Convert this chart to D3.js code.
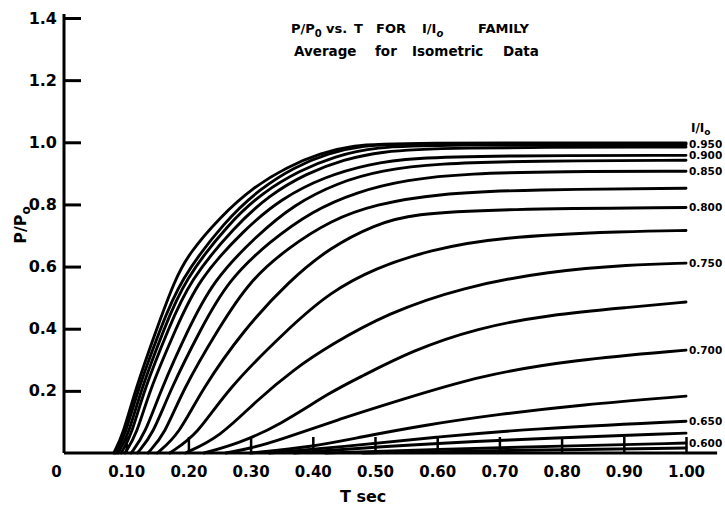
<!DOCTYPE html>
<html>
<head>
<meta charset="utf-8">
<script src="https://cdn.jsdelivr.net/npm/d3@7"></script>
<style>
  body { margin: 0; background: #fff; }
  text { font-family: "DejaVu Sans", sans-serif; font-weight: bold; fill: #000; }
</style>
</head>
<body>
<div id="chart"></div>
<script>
// I/I0 of each curve, top to bottom
const ratios = [1.000, 0.975, 0.950, 0.925, 0.900, 0.875, 0.850, 0.825, 0.800,
                0.775, 0.750, 0.725, 0.700, 0.675, 0.650, 0.625, 0.600, 0.575];

// [T sec, P/P0]
const c1000 = [[0.080,0],[0.095,0.06],[0.114,0.2],[0.149,0.4],[0.178,0.556],[0.20,0.64],[0.251,0.76],[0.304,0.855],[0.358,0.92],[0.412,0.965],[0.465,0.99],[0.53,0.998],[1.0,0.998]];
const c0975 = [[0.083,0],[0.099,0.06],[0.118,0.2],[0.155,0.4],[0.186,0.556],[0.26,0.75],[0.315,0.85],[0.37,0.92],[0.425,0.965],[0.48,0.99],[0.55,0.996],[1.0,0.996]];
const c0950 = [[0.087,0],[0.104,0.06],[0.123,0.2],[0.161,0.4],[0.193,0.556],[0.265,0.74],[0.32,0.84],[0.38,0.91],[0.435,0.955],[0.5,0.985],[0.6,0.992],[1.0,0.992]];
const c0925 = [[0.092,0],[0.109,0.06],[0.128,0.2],[0.168,0.4],[0.202,0.556],[0.275,0.73],[0.33,0.83],[0.39,0.9],[0.45,0.945],[0.51,0.97],[0.6,0.983],[1.0,0.985]];
const c0900 = [[0.098,0],[0.117,0.06],[0.137,0.2],[0.180,0.4],[0.215,0.556],[0.29,0.72],[0.35,0.82],[0.42,0.89],[0.49,0.93],[0.56,0.95],[0.7,0.957],[1.0,0.958]];
const c0875 = [[0.108,0],[0.13,0.06],[0.155,0.2],[0.200,0.4],[0.240,0.556],[0.31,0.70],[0.37,0.80],[0.44,0.87],[0.51,0.91],[0.6,0.932],[0.75,0.94],[1.0,0.942]];
const c0850 = [[0.118,0],[0.143,0.06],[0.17,0.2],[0.22,0.4],[0.264,0.556],[0.33,0.68],[0.40,0.78],[0.47,0.84],[0.55,0.88],[0.65,0.90],[0.8,0.906],[1.0,0.907]];
const c0825 = [[0.135,0],[0.162,0.06],[0.19,0.2],[0.248,0.4],[0.299,0.556],[0.36,0.66],[0.43,0.75],[0.50,0.80],[0.6,0.835],[0.75,0.848],[1.0,0.852]];
const c0800 = [[0.150,0],[0.185,0.06],[0.22,0.2],[0.29,0.4],[0.363,0.556],[0.428,0.662],[0.50,0.735],[0.56,0.77],[0.7,0.785],[1.0,0.790]];
const c0775 = [[0.170,0],[0.215,0.06],[0.26,0.2],[0.36,0.4],[0.428,0.518],[0.50,0.595],[0.588,0.653],[0.696,0.695],[0.91,0.714],[1.0,0.716]];
const c0750 = [[0.195,0],[0.25,0.05],[0.31,0.17],[0.37,0.27],[0.428,0.347],[0.52,0.45],[0.641,0.534],[0.78,0.585],[0.91,0.606],[1.0,0.611]];
const c0725 = [[0.225,0],[0.28,0.03],[0.347,0.09],[0.428,0.196],[0.476,0.244],[0.56,0.33],[0.664,0.402],[0.78,0.445],[0.91,0.469],[1.0,0.486]];
const c0700 = [[0.26,0],[0.30,0.015],[0.347,0.042],[0.444,0.11],[0.54,0.17],[0.67,0.25],[0.82,0.30],[1.0,0.331]];
const c0675 = [[0.30,0],[0.40,0.02],[0.476,0.051],[0.58,0.09],[0.70,0.125],[0.83,0.155],[1.0,0.183]];
const c0650 = [[0.33,0],[0.45,0.02],[0.6,0.052],[0.75,0.078],[1.0,0.102]];
const c0625 = [[0.37,0],[0.5,0.02],[0.7,0.042],[1.0,0.064]];
const c0600 = [[0.42,0],[0.6,0.012],[0.8,0.022],[1.0,0.032]];
const c0575 = [[0.48,0],[0.7,0.008],[1.0,0.016]];

const curves = [c1000, c0975, c0950, c0925, c0900, c0875, c0850, c0825, c0800,
                c0775, c0750, c0725, c0700, c0675, c0650, c0625, c0600, c0575];

// curves that carry a label at the right end
const labelled = [0.950, 0.900, 0.850, 0.800, 0.750, 0.700, 0.650, 0.600];

const xTicks = [0, 0.1, 0.2, 0.3, 0.4, 0.5, 0.6, 0.7, 0.8, 0.9, 1.0];
const yTicks = [0.2, 0.4, 0.6, 0.8, 1.0, 1.2, 1.4];

const width = 725;
const height = 508;

const x = d3.scaleLinear().domain([0, 1]).range([64, 686]);
const y = d3.scaleLinear().domain([0, 1.4]).range([453, 18]);

const svg = d3.select("#chart").append("svg")
    .attr("width", width)
    .attr("height", height)
    .style("background", "#fff");

const series = ratios.map((r, i) => ({ ratio: r, points: curves[i] }));

const line = d3.line()
    .x(d => x(d[0]))
    .y(d => y(d[1]))
    .curve(d3.curveBasis);

svg.append("g").selectAll("path")
  .data(series)
  .join("path")
    .attr("d", d => line(d.points))
    .attr("fill", "none")
    .attr("stroke", "#000")
    .attr("stroke-width", 2.9)
    .attr("stroke-linecap", "round");

// y axis, ticks pointing into the plot
const yAxis = svg.append("g")
    .attr("transform", "translate(" + x(0) + ",0)")
    .call(d3.axisLeft(y).tickValues(yTicks).tickSize(-17).tickSizeOuter(0)
          .tickPadding(7).tickFormat(d3.format(".1f")));
yAxis.select(".domain").attr("stroke-width", 3).attr("d", "M0," + y(0) + "V" + (y(1.4) - 4));
yAxis.selectAll(".tick line").attr("stroke-width", 3);
yAxis.selectAll("text").attr("font-size", 16).attr("font-family", "DejaVu Sans").attr("font-weight", "bold");

// x axis, ticks pointing up
const xAxis = svg.append("g")
    .attr("transform", "translate(0," + y(0) + ")")
    .call(d3.axisBottom(x).tickValues(xTicks).tickSize(-16).tickSizeOuter(0)
          .tickPadding(13).tickFormat(d => d === 0 ? "0" : d3.format(".2f")(d)));
xAxis.select(".domain").attr("stroke-width", 3).attr("d", "M" + x(0) + ",0H" + x(1.05));
xAxis.selectAll(".tick line").attr("stroke-width", 2.5);
xAxis.selectAll(".tick").filter(d => d === 0).select("line").remove();
xAxis.selectAll(".tick").filter(d => d === 0).select("text").attr("x", -8);
xAxis.selectAll("text").attr("font-size", 15).attr("font-family", "DejaVu Sans").attr("font-weight", "bold");

// right-hand labels
svg.append("g").selectAll("text")
  .data(series.filter(s => labelled.includes(s.ratio)))
  .join("text")
    .attr("x", x(1) + 3)
    .attr("y", d => y(d.points[d.points.length - 1][1]))
    .attr("dy", "0.35em")
    .attr("font-size", 10.5)
    .text(d => d3.format(".3f")(d.ratio));

const head = svg.append("text").attr("x", x(1) + 5).attr("y", 132).attr("font-size", 12);
head.append("tspan").text("I/I");
head.append("tspan").attr("font-size", 9).attr("dy", 3).text("o");

// title
const t1 = svg.append("text").attr("y", 33).attr("font-size", 13);
t1.append("tspan").attr("x", 291).text("P/P");
t1.append("tspan").attr("font-size", 10).attr("dy", 4).text("0");
t1.append("tspan").attr("x", 326).attr("dy", -4).text("vs.");
t1.append("tspan").attr("x", 354).text("T");
t1.append("tspan").attr("x", 376).text("FOR");
t1.append("tspan").attr("x", 422).text("I/I");
t1.append("tspan").attr("font-size", 10).attr("font-style", "italic").attr("dy", 4).text("o");
t1.append("tspan").attr("x", 478).attr("dy", -4).text("FAMILY");

const t2 = svg.append("text").attr("y", 56).attr("font-size", 13.5);
t2.append("tspan").attr("x", 294).text("Average");
t2.append("tspan").attr("x", 375).text("for");
t2.append("tspan").attr("x", 412).text("Isometric");
t2.append("tspan").attr("x", 503).text("Data");

// axis titles
const yl = svg.append("text")
    .attr("transform", "translate(26,225) rotate(-90)")
    .attr("text-anchor", "middle")
    .attr("font-size", 16);
yl.append("tspan").text("P/P");
yl.append("tspan").attr("font-size", 12).attr("dy", 4).text("o");

svg.append("text")
    .attr("x", 340)
    .attr("y", 502)
    .attr("font-size", 16)
    .text("T sec");
</script>
</body>
</html>
